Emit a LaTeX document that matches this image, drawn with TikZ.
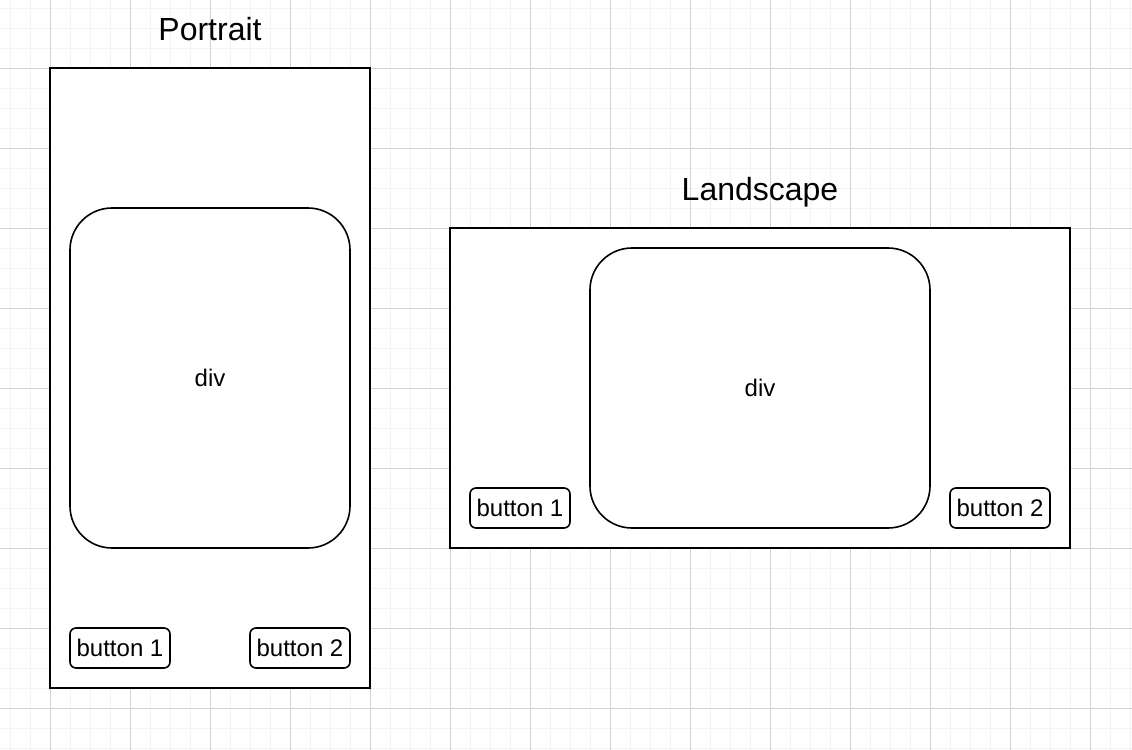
\documentclass[tikz,border=0pt]{standalone}
\usepackage{fontspec}
\setmainfont{Liberation Sans}
\usetikzlibrary{positioning}
\definecolor{gridminor}{RGB}{243,243,243}
\definecolor{gridmajor}{RGB}{210,210,210}

\begin{document}
\begin{tikzpicture}[x=0.5pt, y=-0.5pt,
    screen/.style={rectangle, draw, line width=1pt, fill=white, inner sep=0pt},
    divbox/.style={rectangle, draw, line width=0.8pt, fill=white, rounded corners=21pt, inner sep=0pt, font=\fontsize{12}{14}\selectfont},
    button/.style={rectangle, draw, line width=0.8pt, fill=white, rounded corners=3pt, inner sep=0pt,
        minimum width=50pt, minimum height=20pt, font=\fontsize{12}{14}\selectfont},
    title/.style={font=\fontsize{16}{19}\selectfont, inner sep=0pt, anchor=base}]
    \useasboundingbox (0,0) rectangle (1132,750);
    \fill[white] (0,0) rectangle (1132,750);
    % grid
    \foreach \x in {10,30,...,1130} \draw[gridminor, line width=0.5pt] (\x,0) -- (\x,750);
    \foreach \y in {8,28,...,748} \draw[gridminor, line width=0.5pt] (0,\y) -- (1132,\y);
    \foreach \x in {50,130,...,1130} \draw[gridmajor, line width=0.5pt] (\x,0) -- (\x,750);
    \foreach \y in {68,148,...,748} \draw[gridmajor, line width=0.5pt] (0,\y) -- (1132,\y);

    % portrait
    \node[title] (portraittitle) at (210,40) {Portrait};
    \node[screen, minimum width=160pt, minimum height=310pt] (portrait) at (210,378) {};
    \node[divbox, minimum width=140pt, minimum height=170pt] (portraitdiv) at (210,378) {div};
    \node[button] (pbutton1) at (120,648) {button 1};
    \node[button] (pbutton2) at (300,648) {button 2};

    % landscape
    \node[title] (landscapetitle) at (760,200) {Landscape};
    \node[screen, minimum width=310pt, minimum height=160pt] (landscape) at (760,388) {};
    \node[divbox, minimum width=170pt, minimum height=140pt] (landscapediv) at (760,388) {div};
    \node[button] (lbutton1) at (520,508) {button 1};
    \node[button] (lbutton2) at (1000,508) {button 2};
\end{tikzpicture}
\end{document}
